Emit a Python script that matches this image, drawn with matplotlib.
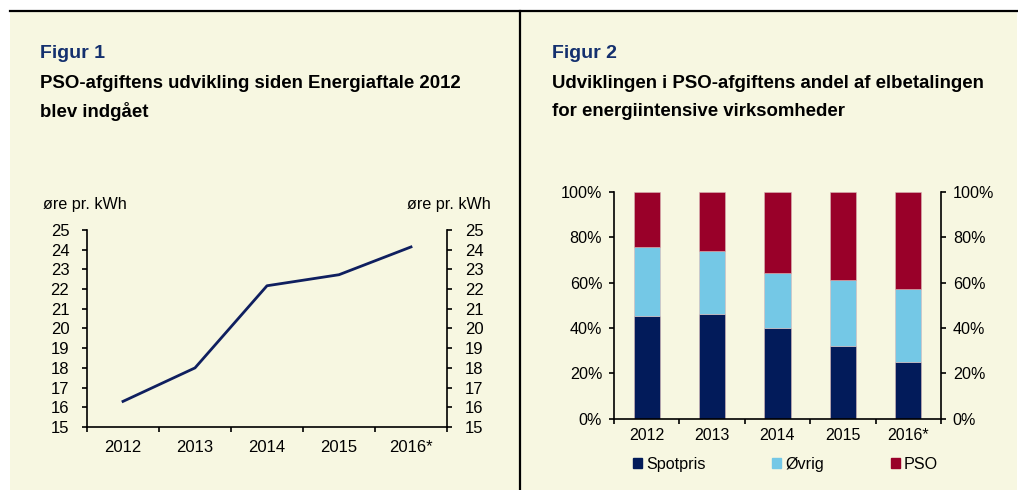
import numpy as np
import matplotlib
matplotlib.use("Agg")
import matplotlib.pyplot as plt
from matplotlib.patches import Rectangle, Patch
from matplotlib.lines import Line2D

plt.rcParams['font.family'] = ['Liberation Sans', 'DejaVu Sans']

# data
years = ['2012', '2013', '2014', '2015', '2016*']
pso_rate = [16.3, 18.0, 22.17, 22.73, 24.14]   # øre pr. kWh
spot = [45.2, 46.0, 39.9, 32.0, 25.1]
ovrig = [30.4, 27.7, 24.3, 29.1, 32.2]
pso = [24.4, 26.3, 35.8, 38.9, 42.7]
legend_labels = ['Spotpris', 'Øvrig', 'PSO']

W, H = 1018, 490
cream = '#F7F7E1'
navy = '#0F1F5F'
c_spot = '#021B5A'
c_ovrig = '#74C8E6'
c_pso = '#990029'
title_blue = '#14306E'

fig = plt.figure(figsize=(W / 100, H / 100), dpi=100, facecolor='white')

def fx(x):
    return x / W

def fy(y):
    return 1 - y / H

# background panel + frame lines
fig.patches.append(Rectangle((fx(10), 0), fx(1017) - fx(10), fy(11), transform=fig.transFigure,
                             facecolor=cream, edgecolor='none', zorder=-10))
fig.add_artist(Line2D([fx(10), fx(1017)], [fy(11), fy(11)], color='black', lw=1.6))
fig.add_artist(Line2D([fx(520), fx(520)], [fy(11), 0], color='black', lw=1.6))

# titles
fig.text(fx(40), fy(54), 'Figur 1', color=title_blue, fontsize=14, fontweight='bold', va='center')
fig.text(fx(40), fy(83), 'PSO-afgiftens udvikling siden Energiaftale 2012', fontsize=13.4,
         fontweight='bold', va='center')
fig.text(fx(40), fy(111), 'blev indgået', fontsize=13.4, fontweight='bold', va='center')

fig.text(fx(552), fy(54), 'Figur 2', color=title_blue, fontsize=14, fontweight='bold', va='center')
fig.text(fx(552), fy(83), 'Udviklingen i PSO-afgiftens andel af elbetalingen', fontsize=13.4,
         fontweight='bold', va='center')
fig.text(fx(552), fy(111), 'for energiintensive virksomheder', fontsize=13.4, fontweight='bold', va='center')

# --- Figur 1: line chart
ax1 = fig.add_axes([fx(87), fy(427), fx(447) - fx(87), (427 - 230) / H])
ax1.set_facecolor('none')
x = np.arange(len(years))
ax1.plot(x, pso_rate, color=navy, lw=2)
ax1.set_xlim(-0.5, len(years) - 0.5)
ax1.set_ylim(15, 25)
ax1.set_yticks(range(15, 26))
ax1.set_xticks(x)
ax1.set_xticklabels(years)
ax1.set_xticks(np.arange(-0.5, len(years)), minor=True)
ax1.tick_params(axis='x', which='major', length=0, pad=9, labelsize=12)
ax1.tick_params(axis='x', which='minor', length=3.5, width=1.2, direction='out')
ax1.tick_params(axis='y', length=3.5, width=1.2, direction='out', labelsize=12,
                right=True, labelright=True, pad=9.2)
ax1.spines['top'].set_visible(False)
for s in ['left', 'right', 'bottom']:
    ax1.spines[s].set_linewidth(1.2)
fig.text(fx(43), fy(204), 'øre pr. kWh', fontsize=11.6, va='center', ha='left')
fig.text(fx(491), fy(204), 'øre pr. kWh', fontsize=11.6, va='center', ha='right')

# --- Figur 2: stacked bars
ax2 = fig.add_axes([fx(614), fy(418.7), fx(941) - fx(614), 227 / H])
ax2.set_facecolor('none')
b1 = ax2.bar(x, spot, width=0.4, color=c_spot, edgecolor='#D9B8B8', linewidth=0.4)
b2 = ax2.bar(x, ovrig, width=0.4, bottom=spot, color=c_ovrig, edgecolor='#D9B8B8', linewidth=0.4)
b3 = ax2.bar(x, pso, width=0.4, bottom=np.add(spot, ovrig), color=c_pso, edgecolor='#D9B8B8', linewidth=0.4)
ax2.set_xlim(-0.5, len(years) - 0.5)
ax2.set_ylim(0, 100)
ax2.set_yticks(range(0, 101, 20))
ax2.set_yticklabels([f'{v}%' for v in range(0, 101, 20)])
ax2.set_xticks(x)
ax2.set_xticklabels(years)
ax2.set_xticks(np.arange(-0.5, len(years)), minor=True)
ax2.tick_params(axis='x', which='major', length=0, pad=7, labelsize=11.5)
ax2.tick_params(axis='x', which='minor', length=3.5, width=1.2, direction='out')
ax2.tick_params(axis='y', length=3.5, width=1.2, direction='out', labelsize=11.6,
                right=True, labelright=True, pad=5)
ax2.spines['top'].set_visible(False)
for s in ['left', 'right', 'bottom']:
    ax2.spines[s].set_linewidth(1.2)

handles = [Patch(color=c) for c in (c_spot, c_ovrig, c_pso)]
fig.legend(handles, legend_labels, loc='center left', bbox_to_anchor=(fx(633), fy(464)),
           ncol=3, frameon=False, fontsize=11.6, handlelength=0.55, handleheight=0.55,
           handletextpad=0.25, columnspacing=4.15, borderpad=0, borderaxespad=0)

fig.savefig('out.png', dpi=100, facecolor='white')
